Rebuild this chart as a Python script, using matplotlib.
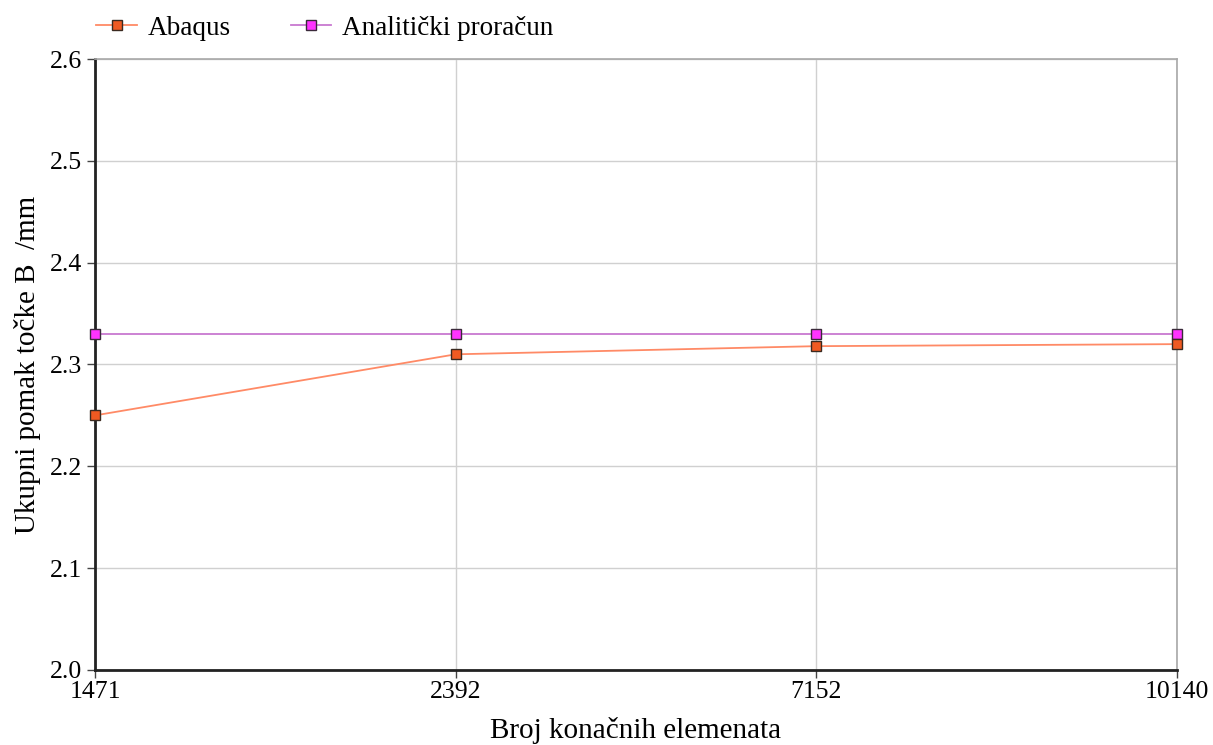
import numpy as np
import matplotlib.pyplot as plt

plt.rcParams['font.family'] = ['Liberation Serif', 'DejaVu Serif']

elements = ['1471', '2392', '7152', '10140']
abaqus = [2.25, 2.31, 2.318, 2.32]
analiticki = [2.33, 2.33, 2.33, 2.33]

fig = plt.figure(figsize=(12.13, 7.45), dpi=100)
ax = fig.add_axes([0.0783, 0.1007, 0.892, 0.8201])

x = np.arange(len(elements))
ax.plot(x, abaqus, color='#ff8a66', lw=1.3, marker='s', ms=7,
        mfc='#f05a22', mec='#3a2a20', mew=1.0, label='Abaqus', clip_on=False, zorder=4)
ax.plot(x, analiticki, color='#c878d0', lw=1.3, marker='s', ms=7,
        mfc='#ff33ff', mec='#3a2a3a', mew=1.0, label='Analitički proračun', clip_on=False, zorder=3)

ax.set_xlim(0, len(elements) - 1)
ax.set_ylim(2.0, 2.6)
ax.set_xticks(x)
ax.set_xticklabels(elements)
ax.set_yticks(np.arange(2.0, 2.61, 0.1))
ax.yaxis.set_major_formatter(plt.FormatStrFormatter('%.1f'))
ax.grid(True, color='#d0d0d0', lw=1.0)
ax.set_axisbelow(True)

for s in ['top', 'right']:
    ax.spines[s].set_color('#a8a8a8')
    ax.spines[s].set_linewidth(1.2)
for s in ['left', 'bottom']:
    ax.spines[s].set_color('#222222')
    ax.spines[s].set_linewidth(2.0)

ax.tick_params(axis='both', labelsize=18.5, color='#444444', length=6, width=1)
ax.tick_params(axis='x', pad=2)
ax.tick_params(axis='y', pad=3)
ax.set_xlabel('Broj konačnih elemenata', fontsize=21, labelpad=10)
ax.set_ylabel('Ukupni pomak točke B  /mm', fontsize=21, labelpad=7)

ax.legend(loc='lower left', bbox_to_anchor=(-0.0137, 1.003), ncol=2, frameon=False,
          fontsize=19.5, handlelength=1.5, columnspacing=2.2, handletextpad=0.4,
          borderaxespad=0.2)

fig.savefig('out.png', dpi=100)
